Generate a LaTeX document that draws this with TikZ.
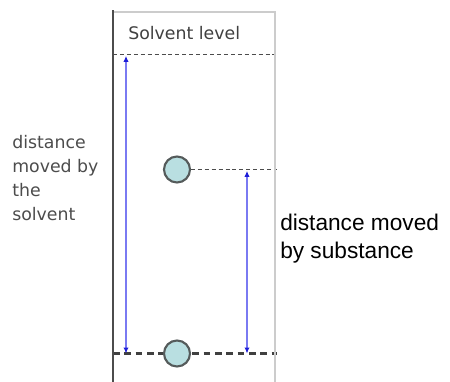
\documentclass[tikz,border=0pt]{standalone}
\usepackage{fontspec}
\setmainfont{Liberation Sans}
\newfontfamily\widesans{DejaVu Sans}
\usepackage{tikz}
\usetikzlibrary{arrows.meta,positioning,backgrounds}

\definecolor{spotfill}{HTML}{B9DFE1}
\definecolor{spotedge}{HTML}{555B5B}
\definecolor{runblue}{HTML}{7A7AF2}
\definecolor{tipblue}{HTML}{1E1ED8}

\begin{document}
\begin{tikzpicture}
	% Styles
	[
	x=0.75pt, y=-0.75pt,
	spot/.style={circle,draw=spotedge,fill=spotfill,line width=1.6pt,inner sep=0pt,minimum size=26*0.75pt},
	level/.style={black!70,line width=1.4pt,dash pattern=on 3pt off 2.2pt},
	baseline line/.style={black!75,line width=1.6pt,dash pattern=on 5pt off 3.5pt},
	run/.style={runblue,line width=1.3pt,{Latex[length=4.5pt,width=4pt,color=tipblue]}-{Latex[length=4.5pt,width=4pt,color=tipblue]}},
	label/.style={inner sep=0pt,align=left},
	]
	\useasboundingbox (0,0) rectangle (450,382);

	% Paper
	\draw[black!20,line width=0.8pt] (113,12) -- (275,12) -- (275,382);
	\draw[black!70,line width=1.6pt] (113,10) -- (113,382);

	% Nodes
	\node at (177,169.5)	(spot)	[spot] {};
	\node at (177,353.5)	(start)	[spot] {};
	\coordinate (topL) at (126,54.5);
	\coordinate (topR) at (277,54.5);
	\coordinate (botL) at (113,353.5);
	\coordinate (botR) at (277,353.5);
	\coordinate (spotR) at (277,169.5);
	\coordinate (runA) at (126,353.5);
	\coordinate (runB) at (247,169.5);
	\coordinate (runC) at (247,353.5);

	\node at (128,40)	(level)	[label,anchor=base west,text=black!75,font=\widesans\fontsize{13}{16}\selectfont] {Solvent level};
	\node at (12,220)	(solvent)	[label,anchor=base west,text=black!70,font=\widesans\fontsize{13}{18}\selectfont] {distance\\moved by\\the\\solvent};
	\node at (280,258)	(substance)	[label,anchor=base west,font=\fontsize{17}{21}\selectfont] {distance moved\\by substance};

	% Connections
	\begin{scope}[on background layer]
		\draw[level] (113,54.5) -- (topR);
		\draw[level] (spot.center) -- (spotR);
		\draw[baseline line] (botL) -- (botR);
	\end{scope}
	\draw[run,shorten <=1pt] (topL) -- (runA);
	\draw[run,shorten <=1pt] (runB) -- (runC);

\end{tikzpicture}
\end{document}
